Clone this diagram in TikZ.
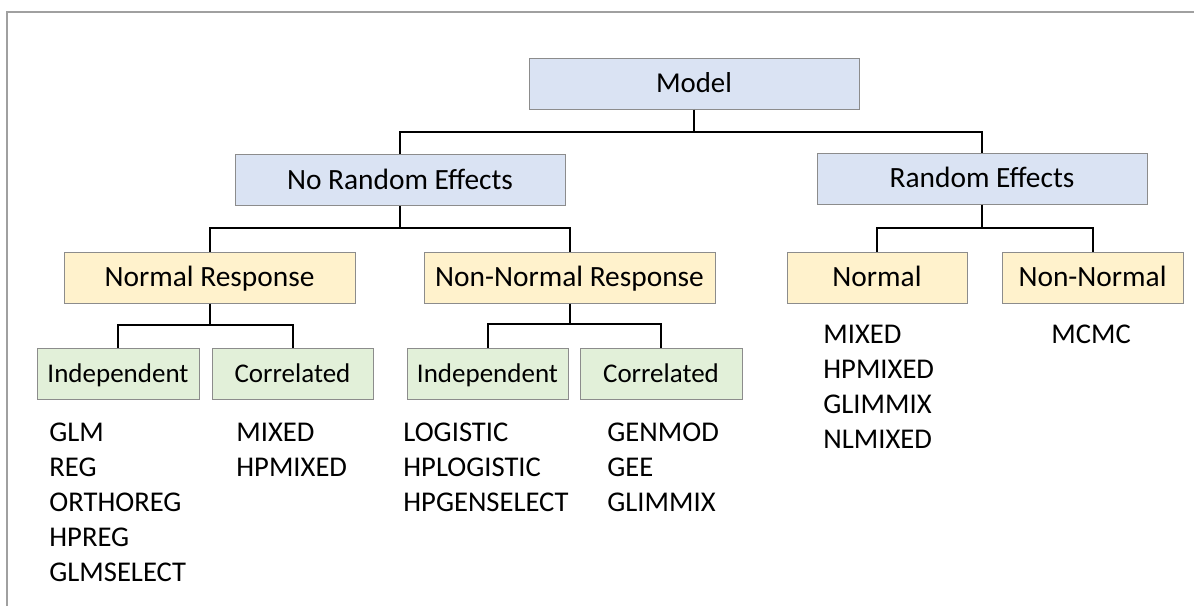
\documentclass[tikz,border=0pt]{standalone}
\usepackage{fontspec}
\setmainfont{Carlito}
\definecolor{bluefill}{HTML}{DAE3F3}
\definecolor{yellowfill}{HTML}{FFF2CC}
\definecolor{greenfill}{HTML}{E2F0D9}
\definecolor{boxline}{HTML}{8C8C8C}
\definecolor{frameline}{HTML}{A0A0A0}
\tikzset{
  x=0.5pt, y=-0.5pt,
  box/.style={draw=boxline, line width=0.5pt, inner sep=0pt, minimum height=25.5pt, text depth=0pt},
  bluebox/.style={box, fill=bluefill, font=\fontsize{14.7}{17}\selectfont, text height=9.45pt},
  yellowbox/.style={box, fill=yellowfill, font=\fontsize{14.7}{17}\selectfont, text height=9.45pt},
  greenbox/.style={box, fill=greenfill, font=\fontsize{13.5}{16}\selectfont, text height=8.7pt},
  conn/.style={draw=black, line width=1pt},
  listtext/.style={anchor=north west, inner sep=0pt, align=left, font=\fontsize{14.3}{17.5}\selectfont}
}
\begin{document}
\begin{tikzpicture}
\useasboundingbox (0,0) rectangle (1194,606);
\draw[frameline, line width=0.8pt] (7,606) -- (7,12) -- (1194,12);

% level 0
\node[bluebox, minimum width=165pt, font=\fontsize{14.4}{17}\selectfont, text height=9.27pt] (model) at (694,83.5) {Model};
% level 1
\node[bluebox, minimum width=165pt] (nre) at (400,180) {No Random Effects};
\node[bluebox, minimum width=165pt] (re) at (982,178.5) {Random Effects};
% level 2
\node[yellowbox, minimum width=145.5pt] (nr) at (209.5,277.5) {Normal Response};
\node[yellowbox, minimum width=145.5pt] (nnr) at (569.5,277.5) {Non-Normal Response};
\node[yellowbox, minimum width=90pt] (rn) at (877,277.5) {Normal};
\node[yellowbox, minimum width=90.5pt] (rnn) at (1092.5,277.5) {Non-Normal};
% level 3
\node[greenbox, minimum width=81pt] (ind1) at (118,373.5) {Independent};
\node[greenbox, minimum width=80.5pt] (cor1) at (292.5,373.5) {Correlated};
\node[greenbox, minimum width=80.5pt] (ind2) at (487.5,373.5) {Independent};
\node[greenbox, minimum width=81pt] (cor2) at (661,373.5) {Correlated};

% connectors
\coordinate (b0) at (694,132);
\draw[conn] (model.south) -- (b0);
\draw[conn] (nre.north) |- (b0) -| (re.north);

\coordinate (b1) at (400,228);
\draw[conn] (nre.south) -- (b1);
\draw[conn] (nr.north) |- (b1) -| (nnr.north);

\coordinate (b2) at (982,228);
\draw[conn] (re.south) -- (b2);
\draw[conn] (rn.north) |- (b2) -| (rnn.north);

\coordinate (b3) at (209.5,325);
\draw[conn] (nr.south) -- (b3);
\draw[conn] (ind1.north) |- (b3) -| (cor1.north);

\coordinate (b4) at (569.5,324);
\draw[conn] (nnr.south) -- (b4);
\draw[conn] (ind2.north) |- (b4) -| (cor2.north);

% lists
\node[listtext] (l1) at (49,423) {GLM\\REG\\ORTHOREG\\HPREG\\GLMSELECT};
\node[listtext] (l2) at (236,423) {MIXED\\HPMIXED};
\node[listtext] (l3) at (403,423) {LOGISTIC\\HPLOGISTIC\\HPGENSELECT};
\node[listtext] (l4) at (607,423) {GENMOD\\GEE\\GLIMMIX};
\node[listtext] (l5) at (823,325) {MIXED\\HPMIXED\\GLIMMIX\\NLMIXED};
\node[listtext] (l6) at (1051,325) {MCMC};
\end{tikzpicture}
\end{document}
